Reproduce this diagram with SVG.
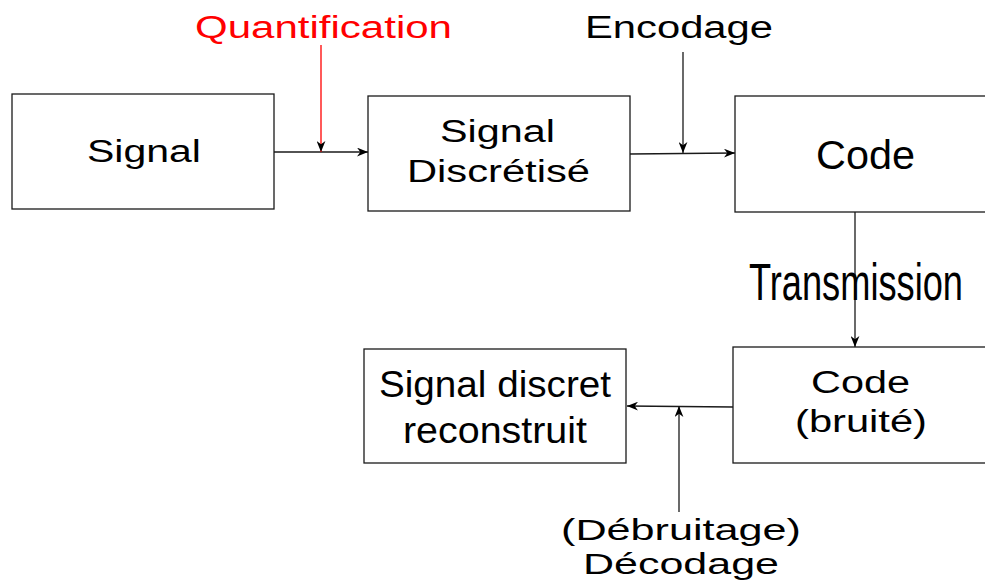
<svg xmlns="http://www.w3.org/2000/svg" width="985" height="580" viewBox="0 0 985 580">
<style>
  .box { fill: #ffffff; stroke: #1a1a1a; stroke-width: 1.3; }
  .t { font-family: "Liberation Sans", Arial, sans-serif; fill: #000000; }
  .line { stroke: #1a1a1a; stroke-width: 1.3; fill: none; }
  .red { stroke: #ff0000; stroke-width: 1.3; fill: none; }
</style>
<defs>
  <marker id="ah" viewBox="0 0 10 8" refX="10" refY="4" markerWidth="11" markerHeight="9" markerUnits="userSpaceOnUse" orient="auto">
    <path d="M0,0 L10,4 L0,8 L3,4 z" fill="#000000"/>
  </marker>
</defs>
<rect width="985" height="580" fill="#ffffff"/>

<g id="connectors">
  <line class="line" x1="274" y1="152" x2="368" y2="152" marker-end="url(#ah)"/>
  <line class="red" x1="321" y1="45" x2="321" y2="152" marker-end="url(#ah)"/>
  <line class="line" x1="630" y1="154" x2="735" y2="153" marker-end="url(#ah)"/>
  <line class="line" x1="683" y1="52" x2="683" y2="153" marker-end="url(#ah)"/>
  <line class="line" x1="855" y1="212" x2="855" y2="347" marker-end="url(#ah)"/>
  <line class="line" x1="733" y1="407" x2="627" y2="406" marker-end="url(#ah)"/>
  <line class="line" x1="679" y1="512" x2="679" y2="406" marker-end="url(#ah)"/>
</g>

<g id="label-quantification">
  <text class="t" x="195" y="38" font-size="31" fill="#ff0000" style="fill:#ff0000" textLength="257" lengthAdjust="spacingAndGlyphs">Quantification</text>
</g>
<g id="label-encodage">
  <text class="t" x="585" y="38" font-size="31" textLength="188" lengthAdjust="spacingAndGlyphs">Encodage</text>
</g>

<g id="node-signal">
  <rect class="box" x="12" y="94" width="262" height="115"/>
  <text class="t" x="87" y="162" font-size="31" textLength="114" lengthAdjust="spacingAndGlyphs">Signal</text>
</g>

<g id="node-discretise">
  <rect class="box" x="368" y="96" width="262" height="115"/>
  <text class="t" x="440" y="142" font-size="31" textLength="115" lengthAdjust="spacingAndGlyphs">Signal</text>
  <text class="t" x="407" y="182" font-size="31" textLength="183" lengthAdjust="spacingAndGlyphs">Discrétisé</text>
</g>

<g id="node-code">
  <rect class="box" x="735" y="96" width="260" height="116"/>
  <text class="t" x="816" y="169" font-size="40" textLength="99" lengthAdjust="spacingAndGlyphs">Code</text>
</g>

<g id="label-transmission">
  <text class="t" x="749" y="300" font-size="52" textLength="214" lengthAdjust="spacingAndGlyphs">Transmission</text>
</g>

<g id="node-code-bruite">
  <rect class="box" x="733" y="347" width="262" height="116"/>
  <text class="t" x="811" y="393" font-size="31" textLength="99" lengthAdjust="spacingAndGlyphs">Code</text>
  <text class="t" x="795" y="432" font-size="31" textLength="132" lengthAdjust="spacingAndGlyphs">(bruité)</text>
</g>

<g id="node-reconstruit">
  <rect class="box" x="364" y="349" width="262" height="114"/>
  <text class="t" x="379" y="397" font-size="36" textLength="232" lengthAdjust="spacingAndGlyphs">Signal discret</text>
  <text class="t" x="403" y="443" font-size="36" textLength="184" lengthAdjust="spacingAndGlyphs">reconstruit</text>
</g>

<g id="label-decodage">
  <text class="t" x="561" y="540" font-size="30" textLength="240" lengthAdjust="spacingAndGlyphs">(Débruitage)</text>
  <text class="t" x="583" y="574" font-size="30" textLength="196" lengthAdjust="spacingAndGlyphs">Décodage</text>
</g>
</svg>
